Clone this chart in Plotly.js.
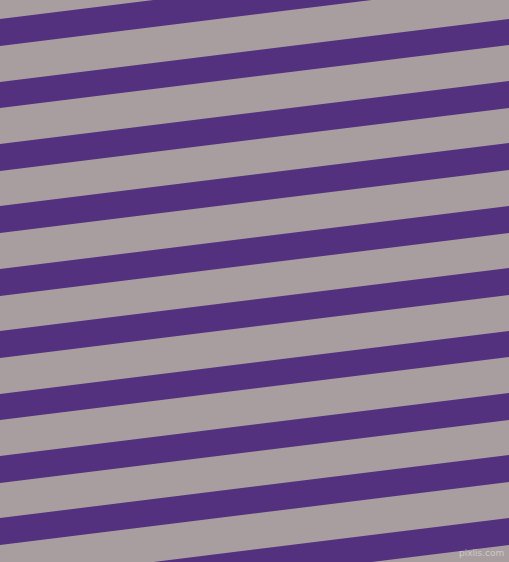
<!DOCTYPE html>
<html>
<head>
<meta charset="utf-8">
<script src="https://cdn.plot.ly/plotly-3.0.1.min.js"></script>
<style>
  html, body { margin: 0; padding: 0; background: #a89e9f; }
  #chart { width: 509px; height: 562px; }
</style>
</head>
<body>
<div id="chart"></div>
<script>
// Stripe pattern: purple bands over a grey ground

// band edges read at the left edge (x = 0)
var topLeft = [19, 82, 144, 206, 269, 331, 394, 456, 518, 581];
var bottomLeft = [46, 108, 171, 233, 296, 358, 420, 483, 545, 608];

// band edges read at the right edge (x = 509)
var topRight = [-44, 19, 81, 143, 206, 268, 331, 393, 455, 518];
var bottomRight = [-17, 45, 108, 170, 233, 295, 357, 420, 482, 545];

var xEdges = [0, 509];

var data = [];
for (var i = 0; i < topLeft.length; i++) {
  data.push({
    x: [xEdges[0], xEdges[1], xEdges[1], xEdges[0], xEdges[0]],
    y: [topLeft[i], topRight[i], bottomRight[i], bottomLeft[i], topLeft[i]],
    type: 'scatter',
    mode: 'lines',
    fill: 'toself',
    fillcolor: '#53317f',
    line: { width: 0, color: '#53317f' },
    hoverinfo: 'none',
    showlegend: false
  });
}

var layout = {
  width: 509,
  height: 562,
  paper_bgcolor: '#a89e9f',
  plot_bgcolor: '#a89e9f',
  showlegend: false,
  margin: { l: 0, t: 0, r: 0, b: 0 },
  xaxis: {
    range: [0, 509],
    visible: false,
    fixedrange: true
  },
  yaxis: {
    range: [562, 0],
    visible: false,
    fixedrange: true
  },
  annotations: [{
    text: 'pixlis.com',
    xref: 'paper',
    yref: 'paper',
    x: 0.995,
    y: 0.003,
    xanchor: 'right',
    yanchor: 'bottom',
    showarrow: false,
    font: { family: 'DejaVu Sans', size: 9, color: 'rgba(255,255,255,0.45)' }
  }]
};

Plotly.newPlot('chart', data, layout, { displayModeBar: false, staticPlot: true });
</script>
</body>
</html>
